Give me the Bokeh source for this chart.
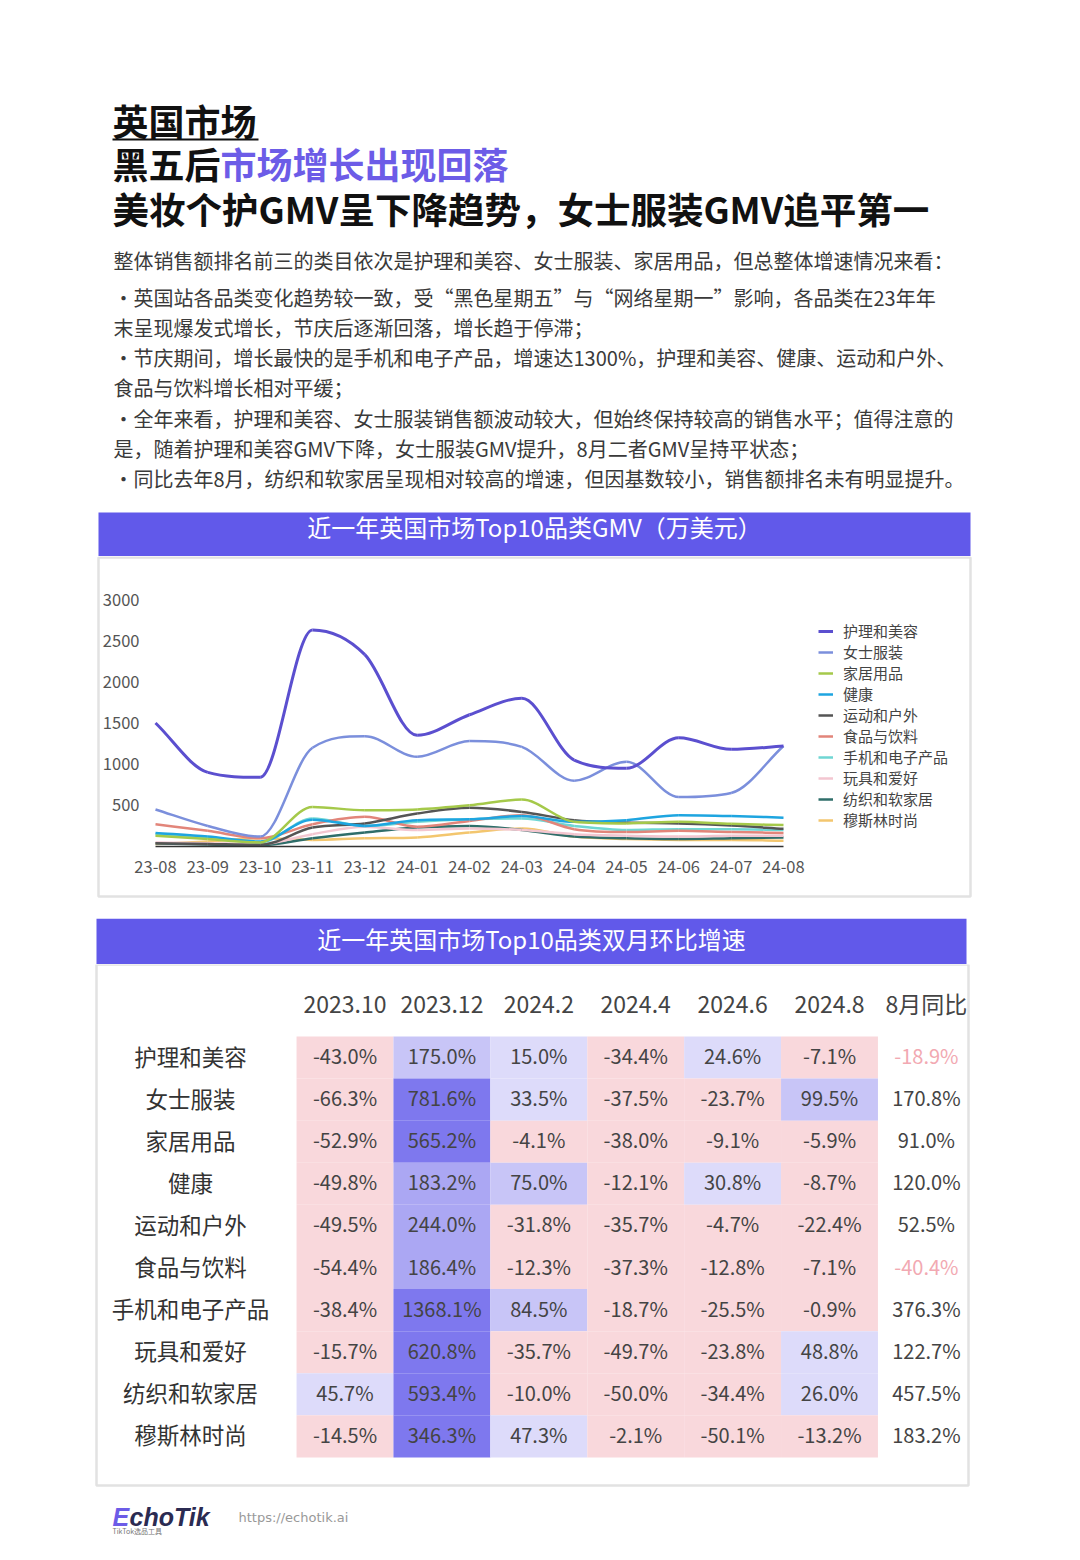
from bokeh.plotting import figure
from bokeh.models import (Range1d, ColumnDataSource, Legend, LegendItem, FixedTicker)
from bokeh.layouts import column
from bokeh.core.properties import value
from bokeh.embed import file_html
from bokeh.resources import INLINE

# ---------------- data ----------------
months = ["23-08", "23-09", "23-10", "23-11", "23-12", "24-01", "24-02",
          "24-03", "24-04", "24-05", "24-06", "24-07", "24-08"]
series_names = ["护理和美容", "女士服装", "家居用品", "健康", "运动和户外",
                "食品与饮料", "手机和电子产品", "玩具和爱好", "纺织和软家居", "穆斯林时尚"]
gmv_beauty = [1500, 900, 840, 2630, 2330, 1350, 1600, 1800, 1050, 950, 1320, 1180, 1220]
gmv_women = [450, 250, 120, 1200, 1340, 1090, 1280, 1210, 800, 1030, 600, 650, 1220]
gmv_home = [130, 90, 50, 480, 440, 450, 500, 570, 300, 280, 300, 275, 260]
gmv_health = [165, 120, 60, 325, 250, 320, 330, 370, 300, 320, 380, 370, 350]
gmv_sports = [40, 30, 20, 230, 280, 400, 470, 420, 320, 290, 280, 255, 215]
gmv_food = [270, 190, 100, 270, 360, 240, 310, 380, 210, 175, 190, 175, 165]
gmv_phone = [150, 110, 50, 340, 250, 300, 330, 340, 250, 200, 210, 210, 200]
gmv_toys = [50, 40, 30, 150, 240, 200, 220, 200, 150, 130, 120, 130, 130]
gmv_textile = [40, 25, 15, 100, 170, 230, 250, 200, 120, 100, 90, 100, 110]
gmv_muslim = [30, 60, 100, 80, 100, 110, 170, 220, 120, 90, 80, 80, 70]
y_ticks = [500, 1000, 1500, 2000, 2500, 3000]

categories = ["护理和美容", "女士服装", "家居用品", "健康", "运动和户外",
              "食品与饮料", "手机和电子产品", "玩具和爱好", "纺织和软家居", "穆斯林时尚"]
periods = ["2023.10", "2023.12", "2024.2", "2024.4", "2024.6", "2024.8", "8月同比"]
growth_2023_10 = [-43.0, -66.3, -52.9, -49.8, -49.5, -54.4, -38.4, -15.7, 45.7, -14.5]
growth_2023_12 = [175.0, 781.6, 565.2, 183.2, 244.0, 186.4, 1368.1, 620.8, 593.4, 346.3]
growth_2024_2 = [15.0, 33.5, -4.1, 75.0, -31.8, -12.3, 84.5, -35.7, -10.0, 47.3]
growth_2024_4 = [-34.4, -37.5, -38.0, -12.1, -35.7, -37.3, -18.7, -49.7, -50.0, -2.1]
growth_2024_6 = [24.6, -23.7, -9.1, 30.8, -4.7, -12.8, -25.5, -23.8, -34.4, -50.1]
growth_2024_8 = [-7.1, 99.5, -5.9, -8.7, -22.4, -7.1, -0.9, 48.8, 26.0, -13.2]
yoy_aug = [-18.9, 170.8, 91.0, 120.0, 52.5, -40.4, 376.3, 122.7, 457.5, 183.2]

# ---------------- style ----------------
W = 1080
FONT = "Noto Sans CJK SC"
PURPLE = "#6159ea"
BOX = "#e2e2e2"
line_colors = ["#5b4fcf", "#7b8fdc", "#a5c94a", "#1ea5e0", "#555555",
               "#e2857a", "#6fd6d3", "#f3c6d0", "#2f6e6a", "#f3c66e"]
DY = -2  # visual centring correction for CJK text


def deco_fig(top, h):
    p = figure(width=W, height=h, x_range=Range1d(0, W), y_range=Range1d(top + h, top),
               x_axis_type=None, y_axis_type=None, output_backend="svg",
               toolbar_location=None, min_border=0)
    p.grid.visible = False
    p.outline_line_color = None
    return p


def txt(p, x, y, s, size, color="#333333", style="normal", align="left", font=FONT):
    p.text(x=[x], y=[y + DY], text=[s], text_font=value(font), text_font_size=size,
           text_color=color, text_font_style=style, text_align=align, text_baseline="middle")


# ---------------- header (page y 0..556) ----------------
pA = deco_fig(0, 556)
txt(pA, 112, 121, "英国市场", "36px", "#111111", "bold")
pA.segment(x0=[112], y0=[139], x1=[258], y1=[139], line_color="#111111", line_width=2)
txt(pA, 112, 164, "黑五后", "36px", "#111111", "bold")
txt(pA, 220, 164, "市场增长出现回落", "36px", "#6c5ce7", "bold")
txt(pA, 112, 210, "美妆个护GMV呈下降趋势，女士服装GMV追平第一", "36.5px", "#111111", "bold")

para = [
    (113, 262, "整体销售额排名前三的类目依次是护理和美容、女士服装、家居用品，但总整体增速情况来看："),
    (113, 299, "•英国站各品类变化趋势较一致，受“黑色星期五”与“网络星期一”影响，各品类在23年年"),
    (113, 329, "末呈现爆发式增长，节庆后逐渐回落，增长趋于停滞；"),
    (113, 359, "•节庆期间，增长最快的是手机和电子产品，增速达1300%，护理和美容、健康、运动和户外、"),
    (113, 389, "食品与饮料增长相对平缓；"),
    (113, 420, "•全年来看，护理和美容、女士服装销售额波动较大，但始终保持较高的销售水平；值得注意的"),
    (113, 450, "是，随着护理和美容GMV下降，女士服装GMV提升，8月二者GMV呈持平状态；"),
    (113, 480, "•同比去年8月，纺织和软家居呈现相对较高的增速，但因基数较小，销售额排名未有明显提升。"),
]
for x, y, s in para:
    txt(pA, x, y, s, "20px", "#3a3a3a")

pA.quad(left=[98], right=[970], top=[512], bottom=[556], fill_color=PURPLE, line_color=None)
txt(pA, 534, 528, "近一年英国市场Top10品类GMV（万美元）", "24px", "#ffffff", align="center")

# ---------------- line chart (page y 556..918) ----------------
B_TOP, B_H = 556, 362
X0_PAGE, X12_PAGE = 155, 783
Y0_PAGE, Y3000_PAGE = 846, 599
px_per_month = (X12_PAGE - X0_PAGE) / 12.0
val_per_px = 3000.0 / (Y0_PAGE - Y3000_PAGE)


def bx(page_x):
    return (page_x - X0_PAGE) / px_per_month


def by(page_y):
    return (Y0_PAGE - page_y) * val_per_px


pB = figure(width=W, height=B_H, x_range=Range1d(bx(0), bx(W)),
            y_range=Range1d(by(B_TOP + B_H), by(B_TOP)),
            output_backend="svg", toolbar_location=None, min_border=0)
pB.grid.visible = False
pB.outline_line_color = None
pB.xaxis.fixed_location = 0
pB.yaxis.fixed_location = bx(153)
pB.xaxis.ticker = FixedTicker(ticks=list(range(len(months))))
pB.xaxis.major_label_overrides = {i: m for i, m in enumerate(months)}
pB.xaxis.bounds = (0, len(months) - 1)
pB.xaxis.axis_line_color = "#333333"
pB.xaxis.axis_line_width = 1.5
pB.yaxis.ticker = FixedTicker(ticks=y_ticks)
pB.yaxis.axis_line_color = None
for ax in (pB.xaxis[0], pB.yaxis[0]):
    ax.major_tick_line_color = None
    ax.minor_tick_line_color = None
    ax.major_label_text_font = FONT
    ax.major_label_text_font_size = "16.5px"
    ax.major_label_text_color = "#555555"
pB.xaxis.major_label_standoff = 8
pB.yaxis.major_label_standoff = 8

# chart frame box (decoration)
pB.quad(left=[bx(98)], right=[bx(970)], top=[by(557)], bottom=[by(896)],
        fill_color=None, line_color=BOX, line_width=2.5)


def smooth_bezier(ys):
    """Monotone cubic (Fritsch-Carlson) curve through the points, as bezier segments."""
    n = len(ys)
    d = [ys[i + 1] - ys[i] for i in range(n - 1)]
    m = [0.0] * n
    m[0], m[-1] = d[0], d[-1]
    for i in range(1, n - 1):
        m[i] = 0.0 if d[i - 1] * d[i] <= 0 else (d[i - 1] + d[i]) / 2.0
    for i in range(n - 1):
        if d[i] == 0:
            m[i] = m[i + 1] = 0.0
            continue
        a, b = m[i] / d[i], m[i + 1] / d[i]
        s = a * a + b * b
        if s > 9:
            t = 3.0 / s ** 0.5
            m[i], m[i + 1] = t * a * d[i], t * b * d[i]
    out = dict(x0=[], y0=[], x1=[], y1=[], cx0=[], cy0=[], cx1=[], cy1=[])
    for i in range(n - 1):
        out["x0"].append(i); out["y0"].append(ys[i])
        out["x1"].append(i + 1); out["y1"].append(ys[i + 1])
        out["cx0"].append(i + 1 / 3.0); out["cy0"].append(ys[i] + m[i] / 3.0)
        out["cx1"].append(i + 2 / 3.0); out["cy1"].append(ys[i + 1] - m[i + 1] / 3.0)
    return out


all_series = [gmv_beauty, gmv_women, gmv_home, gmv_health, gmv_sports,
              gmv_food, gmv_phone, gmv_toys, gmv_textile, gmv_muslim]
items = []
for name, ys, col in list(zip(series_names, all_series, line_colors))[::-1]:
    src = ColumnDataSource(smooth_bezier(ys))
    r = pB.bezier(x0="x0", y0="y0", x1="x1", y1="y1", cx0="cx0", cy0="cy0",
                  cx1="cx1", cy1="cy1", source=src, line_color=col,
                  line_width=3 if name == "护理和美容" else 2.5)
    items.insert(0, LegendItem(label=name, renderers=[r]))

legend = Legend(items=items, location=(818, 88), glyph_width=15, glyph_height=14,
                label_height=14, spacing=0, label_standoff=10, padding=0, margin=0,
                border_line_color=None, background_fill_alpha=0,
                label_text_font=FONT, label_text_font_size="15px",
                label_text_color="#444444")
pB.add_layout(legend)

# ---------------- table band (page y 918..964) ----------------
pC = deco_fig(918, 46)
pC.quad(left=[96], right=[966], top=[918], bottom=[964], fill_color=PURPLE, line_color=None)
txt(pC, 531, 940, "近一年英国市场Top10品类双月环比增速", "24px", "#ffffff", align="center")

# ---------------- table (page y 964..1490) ----------------
D_TOP, D_H = 964, 526
COL0_PAGE, COL_PX = 344.5, 96.9
ROW0_PAGE, ROW_PX = 1057.0, 42.1
NR = len(categories)


def tx(page_x):
    return (page_x - COL0_PAGE) / COL_PX


def ty(page_y):
    return (NR - 1) - (page_y - ROW0_PAGE) / ROW_PX


pD = figure(width=W, height=D_H, x_range=Range1d(tx(0), tx(W)),
            y_range=Range1d(ty(D_TOP + D_H), ty(D_TOP)), x_axis_location="above",
            y_axis_type=None, output_backend="svg", toolbar_location=None, min_border=0)
pD.grid.visible = False
pD.outline_line_color = None
xa = pD.xaxis[0]
xa.fixed_location = NR - 0.5
xa.ticker = FixedTicker(ticks=list(range(len(periods))))
xa.major_label_overrides = {i: s for i, s in enumerate(periods)}
xa.axis_line_color = None
xa.major_tick_line_color = None
xa.minor_tick_line_color = None
xa.major_label_text_font = FONT
xa.major_label_text_font_size = "23px"
xa.major_label_text_color = "#444444"
xa.major_label_standoff = 10

columns_vals = [growth_2023_10, growth_2023_12, growth_2024_2, growth_2024_4,
                growth_2024_6, growth_2024_8, yoy_aug]


def cell_color(v):
    if v < 0:
        return "#f9d8dc"
    if v < 50:
        return "#dddbfa"
    if v < 180:
        return "#c8c5f7"
    if v < 300:
        return "#aba7f3"
    return "#7e78ee"


fx, fy, fc = [], [], []
lx, ly, lab, tc = [], [], [], []
for ci, (per, vals) in enumerate(zip(periods, columns_vals)):
    for ri, v in enumerate(vals):
        yv = NR - 1 - ri
        lx.append(ci); ly.append(yv); lab.append(f"{v:.1f}%")
        if per == "8月同比":
            tc.append("#f2a9b2" if v < 0 else "#444444")
        else:
            tc.append("#444444")
            fx.append(ci); fy.append(yv); fc.append(cell_color(v))

pD.rect(x="x", y="y", width=1, height=1, source=ColumnDataSource(dict(x=fx, y=fy, c=fc)),
        fill_color="c", line_color=None)
pD.text(x="x", y="y", text="label", source=ColumnDataSource(dict(x=lx, y=ly, label=lab, tc=tc)),
        text_color="tc", text_align="center", text_baseline="middle",
        text_font=value(FONT), text_font_size="20px", y_offset=-2)
# row labels
pD.text(x=[tx(190)] * NR, y=[NR - 1 - i for i in range(NR)], text=categories,
        text_color="#333333", text_align="center", text_baseline="middle",
        text_font=value(FONT), text_font_size="22.5px", y_offset=-2)
# table frame box (decoration)
pD.quad(left=[tx(96)], right=[tx(968)], top=[ty(964)], bottom=[ty(1485)],
        fill_color=None, line_color=BOX, line_width=2.5)

# ---------------- footer (page y 1490..1560) ----------------
pE = deco_fig(1490, 70)
txt(pE, 112, 1518, "E", "25px", "#6c5ce7", "bold italic", font="Liberation Sans")
txt(pE, 129, 1518, "choTik", "25px", "#2b2b52", "bold italic", font="Liberation Sans")
txt(pE, 112, 1532, "TikTok选品工具", "7px", "#777777")
txt(pE, 238, 1519, "https://echotik.ai", "13px", "#999999", font="DejaVu Sans")

layout = column(pA, pB, pC, pD, pE, spacing=0)
open("out.html", "w").write(file_html(layout, INLINE))
